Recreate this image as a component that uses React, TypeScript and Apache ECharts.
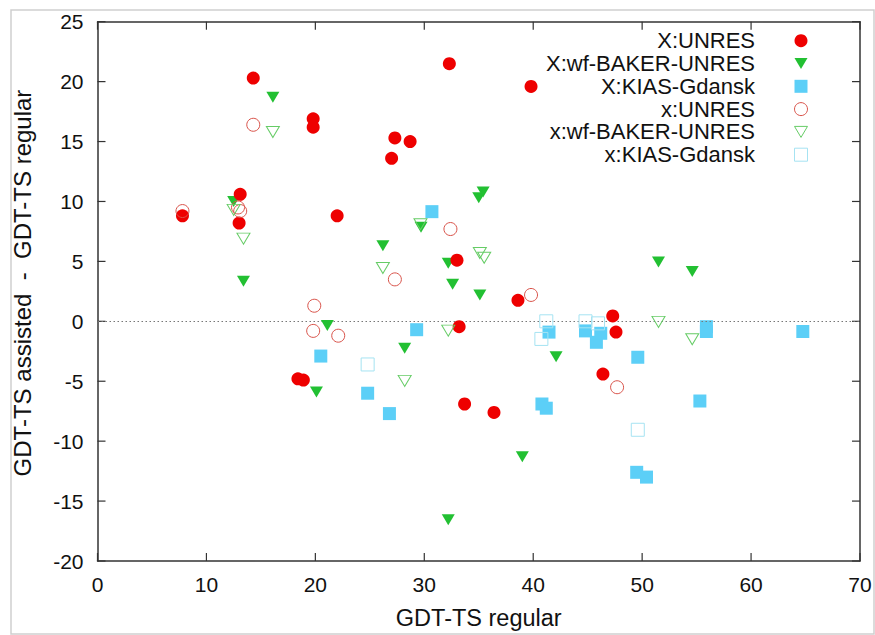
import React, { useEffect, useRef } from "react";
import * as echarts from "echarts";

// X:UNRES (filled circles)
const unresBig: [number, number][] = [
  [7.8, 8.8], [13.0, 8.2], [13.1, 10.6], [14.3, 20.3], [18.4, -4.8], [18.9, -4.9],
  [19.8, 16.9], [19.8, 16.2], [22.0, 8.8], [27.0, 13.6], [27.3, 15.3], [28.7, 15.0],
  [32.3, 21.5], [33.0, 5.1], [33.2, -0.45], [33.7, -6.9], [36.4, -7.6], [38.6, 1.75],
  [39.8, 19.6], [46.4, -4.4], [47.3, 0.45], [47.6, -0.9],
];
// X:wf-BAKER-UNRES (filled down triangles)
const bakerBig: [number, number][] = [
  [12.5, 10.0], [13.4, 3.35], [16.1, 18.7], [20.1, -5.9], [21.1, -0.35], [26.2, 6.3],
  [28.2, -2.25], [29.7, 7.85], [32.2, 4.85], [32.2, -16.55], [32.6, 3.1], [35.0, 10.3],
  [35.4, 10.8], [35.1, 2.2], [39.0, -11.3], [42.1, -2.95], [51.5, 4.95], [54.6, 4.15],
];
// X:KIAS-Gdansk (filled squares)
const kiasBig: [number, number][] = [
  [20.5, -2.9], [24.8, -6.0], [26.8, -7.7], [29.3, -0.7], [30.7, 9.15], [40.8, -6.9],
  [41.2, -7.25], [41.45, -0.9], [44.8, -0.8], [45.8, -1.75], [46.2, -1.0], [49.5, -12.6],
  [49.6, -3.0], [50.4, -13.0], [55.3, -6.65], [55.9, -0.45], [55.9, -0.85], [64.75, -0.85],
];
// x:UNRES (open circles)
const unresSmall: [number, number][] = [
  [7.8, 9.2], [12.9, 9.5], [13.1, 9.2], [14.3, 16.4], [19.9, 1.3], [19.8, -0.8],
  [22.1, -1.2], [27.3, 3.5], [32.4, 7.7], [39.8, 2.2], [47.7, -5.5],
];
// x:wf-BAKER-UNRES (open down triangles)
const bakerSmall: [number, number][] = [
  [12.5, 9.3], [13.4, 6.9], [16.1, 15.8], [26.2, 4.45], [28.2, -4.97], [29.65, 8.1],
  [32.2, -0.78], [35.1, 5.7], [35.5, 5.3], [51.5, -0.05], [54.6, -1.5],
];
// x:KIAS-Gdansk (open squares)
const kiasSmall: [number, number][] = [
  [24.8, -3.6], [40.75, -1.47], [41.2, 0.0], [44.8, 0.0], [45.95, -0.17], [49.6, -9.05],
];

const seriesNames = [
  "X:UNRES",
  "X:wf-BAKER-UNRES",
  "X:KIAS-Gdansk",
  "x:UNRES",
  "x:wf-BAKER-UNRES",
  "x:KIAS-Gdansk",
];

const xTicks = { min: 0, max: 70, interval: 10 };
const yTicks = { min: -20, max: 25, interval: 5 };
const xTickValues = [0, 10, 20, 30, 40, 50, 60, 70];
const yTickValues = [-20, -15, -10, -5, 0, 5, 10, 15, 20, 25];

const FONT = "'Liberation Sans', Arial, Helvetica, sans-serif";
const RED = "#ee0000";
const GREEN = "#22c032";
const BLUE = "#5ccff7";
const RED_O = "#d9534a";
const GREEN_O = "#66cc66";
const BLUE_O = "#a6e3f2";
const AXIS = "#333";

export default function App() {
  const ref = useRef<HTMLDivElement>(null);
  useEffect(() => {
    if (!ref.current) return;
    const chart = echarts.init(ref.current, undefined, { renderer: "svg" });

    const legendRowY = [40.7, 63.5, 86.3, 109.1, 131.9, 154.7];
    const legendTextX = 755;
    const legendSymX = 801;
    const tri = (cx: number, cy: number) => [
      [cx - 6.5, cy - 5.5],
      [cx + 6.5, cy - 5.5],
      [cx, cy + 5.5],
    ];

    const legendGraphics: any[] = [];
    seriesNames.forEach((n, i) => {
      legendGraphics.push({
        type: "text",
        x: legendTextX,
        y: legendRowY[i],
        style: {
          text: n,
          fontSize: 22,
          fontFamily: FONT,
          fill: "#111",
          textAlign: "right",
          textVerticalAlign: "middle",
        },
      });
    });
    const cy = legendRowY;
    legendGraphics.push(
      { type: "circle", shape: { cx: legendSymX, cy: cy[0], r: 6.5 }, style: { fill: RED } },
      { type: "polygon", shape: { points: tri(legendSymX, cy[1]) }, style: { fill: GREEN } },
      { type: "rect", shape: { x: legendSymX - 6.5, y: cy[2] - 6.5, width: 13, height: 13 }, style: { fill: BLUE } },
      { type: "circle", shape: { cx: legendSymX, cy: cy[3], r: 6.5 }, style: { fill: "none", stroke: RED_O, lineWidth: 1 } },
      { type: "polygon", shape: { points: tri(legendSymX, cy[4]) }, style: { fill: "none", stroke: GREEN_O, lineWidth: 1 } },
      { type: "rect", shape: { x: legendSymX - 6.5, y: cy[5] - 6.5, width: 13, height: 13 }, style: { fill: "none", stroke: BLUE_O, lineWidth: 1 } }
    );

    const filled = (color: string) => ({ color, borderWidth: 0, opacity: 1 });
    const open = (color: string) => ({ color: "rgba(0,0,0,0)", borderColor: color, borderWidth: 1, opacity: 1 });
    const line = () => ({ show: true, onZero: false, lineStyle: { color: AXIS, width: 1.5 } });

    // inward tick marks on all four sides, placed through the axes' scales
    const tickSeries = (data: [number, number][], size: number[], offset: number[]) => ({
      type: "scatter",
      silent: true,
      clip: false,
      data,
      symbol: "rect",
      symbolSize: size,
      symbolOffset: offset,
      itemStyle: { color: AXIS, opacity: 1 },
      z: 3,
      tooltip: { show: false },
    });

    chart.setOption({
      animation: false,
      backgroundColor: "#fff",
      textStyle: { fontFamily: FONT },
      grid: { left: 97.5, right: 15, top: 21.7, bottom: 69.3 },
      xAxis: [
        {
          type: "value",
          ...xTicks,
          position: "bottom",
          name: "GDT-TS regular",
          nameLocation: "middle",
          nameGap: 45,
          nameTextStyle: { fontSize: 23.5, color: "#111", fontFamily: FONT },
          axisLine: line(),
          axisTick: { show: false },
          axisLabel: { fontSize: 21, color: "#111", margin: 13, fontFamily: FONT },
          splitLine: { show: false },
        },
        {
          type: "value",
          ...xTicks,
          position: "top",
          axisLine: line(),
          axisTick: { show: false },
          axisLabel: { show: false },
          splitLine: { show: false },
        },
      ],
      yAxis: [
        {
          type: "value",
          ...yTicks,
          position: "left",
          axisLine: line(),
          axisTick: { show: false },
          axisLabel: { fontSize: 21, color: "#111", margin: 14, fontFamily: FONT },
          splitLine: { show: false },
        },
        {
          type: "value",
          ...yTicks,
          position: "right",
          axisLine: line(),
          axisTick: { show: false },
          axisLabel: { show: false },
          splitLine: { show: false },
        },
      ],
      graphic: [
        {
          type: "rect",
          shape: { x: 11, y: 10, width: 863, height: 624 },
          style: { fill: "none", stroke: "#cfcfcf", lineWidth: 1.5 },
          silent: true,
          z: -1,
        },
        {
          type: "text",
          x: 22,
          y: 283,
          rotation: Math.PI / 2,
          style: {
            text: "GDT-TS assisted  -  GDT-TS regular",
            fontSize: 24,
            fontFamily: FONT,
            fill: "#111",
            textAlign: "center",
            textVerticalAlign: "middle",
          },
        },
        ...legendGraphics,
      ],
      series: [
        {
          name: seriesNames[0],
          type: "scatter",
          data: unresBig,
          symbol: "circle",
          symbolSize: 13,
          itemStyle: filled(RED),
          z: 6,
          markLine: {
            silent: true,
            symbol: "none",
            label: { show: false },
            lineStyle: { type: [1.5, 2.5], color: "#777", width: 1 },
            data: [{ yAxis: 0 }],
          },
        },
        {
          name: seriesNames[1],
          type: "scatter",
          data: bakerBig,
          symbol: "triangle",
          symbolRotate: 180,
          symbolSize: [13, 11],
          itemStyle: filled(GREEN),
          z: 5,
        },
        {
          name: seriesNames[2],
          type: "scatter",
          data: kiasBig,
          symbol: "rect",
          symbolSize: 13,
          itemStyle: filled(BLUE),
          z: 4,
        },
        {
          name: seriesNames[3],
          type: "scatter",
          data: unresSmall,
          symbol: "circle",
          symbolSize: 13,
          itemStyle: open(RED_O),
          z: 7,
        },
        {
          name: seriesNames[4],
          type: "scatter",
          data: bakerSmall,
          symbol: "triangle",
          symbolRotate: 180,
          symbolSize: [13, 11],
          itemStyle: open(GREEN_O),
          z: 7,
        },
        {
          name: seriesNames[5],
          type: "scatter",
          data: kiasSmall,
          symbol: "rect",
          symbolSize: 13,
          itemStyle: open(BLUE_O),
          z: 7,
        },
        tickSeries(xTickValues.map((v) => [v, yTicks.min] as [number, number]), [1.2, 8], [0, -4]),
        tickSeries(xTickValues.map((v) => [v, yTicks.max] as [number, number]), [1.2, 8], [0, 4]),
        tickSeries(yTickValues.map((v) => [xTicks.min, v] as [number, number]), [8, 1.2], [4, 0]),
        tickSeries(yTickValues.map((v) => [xTicks.max, v] as [number, number]), [8, 1.2], [-4, 0]),
      ],
    });

    return () => chart.dispose();
  }, []);

  return (
    <div
      ref={ref}
      style={{ position: "fixed", left: 0, top: 0, width: 875, height: 635 }}
    />
  );
}
